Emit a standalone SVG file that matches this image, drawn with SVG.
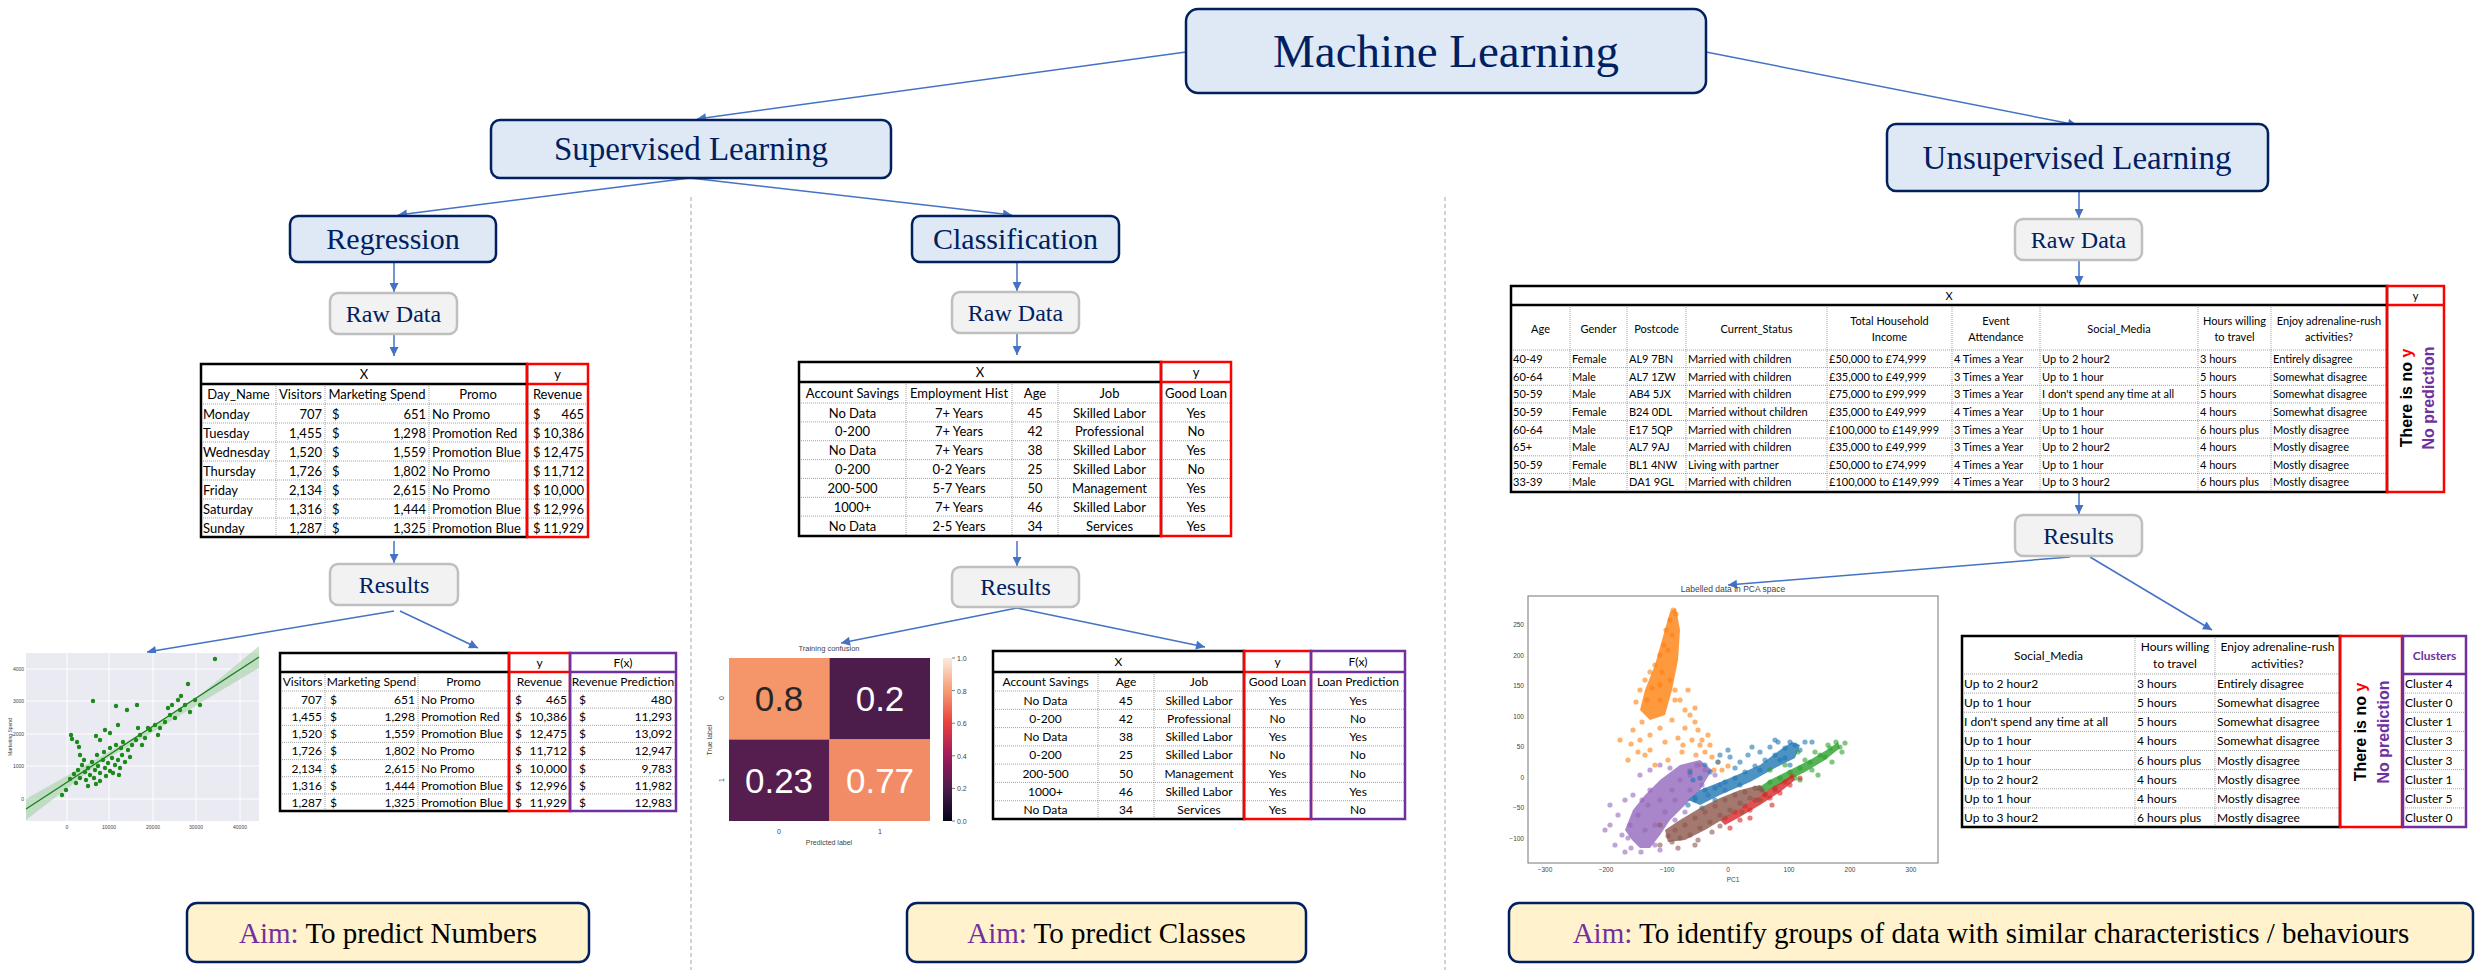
<svg xmlns="http://www.w3.org/2000/svg" width="2483" height="980" viewBox="0 0 2483 980">
<style>
.box{fill:#dee9f5;stroke:#002060;stroke-width:2.5}
.gbox{fill:#f2f2f2;stroke:#bfbfbf;stroke-width:2.5}
.aim{fill:#fff2cc;stroke:#002060;stroke-width:2.5}
.ttl{font-family:"Liberation Serif",serif;fill:#002060;text-anchor:middle}
.aimt{font-family:"Liberation Serif",serif;fill:#000;text-anchor:middle;font-size:29px}
.conn{stroke:#4472c4;stroke-width:1.5;fill:none;marker-end:url(#arr)}
.dash{stroke:#a6a6a6;stroke-width:1;stroke-dasharray:4,3}
.dot{stroke:#8c8c8c;stroke-width:0.8;stroke-dasharray:1,1;fill:none}
.bk{fill:none;stroke:#000;stroke-width:2.5}
.rd{fill:none;stroke:#ff0000;stroke-width:2.5}
.pu{fill:none;stroke:#7030a0;stroke-width:2.5}
.t{font-family:Lato,"Liberation Sans",sans-serif;fill:#000}
.c{text-anchor:middle}
.e{text-anchor:end}
.ax{font-family:"Liberation Sans",sans-serif;fill:#444}
.pc circle{r:2.6px;fill-opacity:0.6}
.pc polygon{fill-opacity:0.8}
</style>
<defs>
<marker id="arr" viewBox="0 0 10 10" refX="10" refY="5" markerWidth="10" markerHeight="9" markerUnits="userSpaceOnUse" orient="auto"><path d="M0,0 L10,5 L0,10 z" fill="#4472c4"/></marker>
<linearGradient id="rocket" x1="0" y1="0" x2="0" y2="1">
<stop offset="0" stop-color="#faebdd"/><stop offset="0.2" stop-color="#f69c73"/><stop offset="0.4" stop-color="#e83f3f"/><stop offset="0.6" stop-color="#a11a5b"/><stop offset="0.8" stop-color="#4c1d4b"/><stop offset="1" stop-color="#03051a"/>
</linearGradient>
</defs>
<rect width="2483" height="980" fill="#fff"/>

<!-- separators -->
<line class="dash" x1="691" y1="197" x2="691" y2="970"/>
<line class="dash" x1="1445" y1="197" x2="1445" y2="970"/>

<!-- connectors -->
<g id="connectors">
<path class="conn" d="M1186,52 L697,119"/>
<path class="conn" d="M1706,52 L2077,125"/>
<path class="conn" d="M690,178 L398,215"/>
<path class="conn" d="M690,178 L1012,215"/>
<path class="conn" d="M394,262 L394,292"/>
<path class="conn" d="M394,335 L394,356"/>
<path class="conn" d="M394,541 L394,563"/>
<path class="conn" d="M394,611 L147,652"/>
<path class="conn" d="M400,611 L478,648"/>
<path class="conn" d="M1017,262 L1017,291"/>
<path class="conn" d="M1017,333 L1017,355"/>
<path class="conn" d="M1017,541 L1017,566"/>
<path class="conn" d="M1017,608 L841,643"/>
<path class="conn" d="M1017,608 L1205,647"/>
<path class="conn" d="M2079,191 L2079,218"/>
<path class="conn" d="M2079,261 L2079,285"/>
<path class="conn" d="M2079,492 L2079,514"/>
<path class="conn" d="M2070,557 L1728,585"/>
<path class="conn" d="M2090,557 L2212,630"/>
</g>

<!-- title nodes -->
<g id="ml"><rect class="box" x="1186" y="9" width="520" height="84" rx="12"/><text class="ttl" x="1446" y="67" font-size="47">Machine Learning</text></g>
<g id="supervised"><rect class="box" x="491" y="120" width="400" height="58" rx="9"/><text class="ttl" x="691" y="160" font-size="33">Supervised Learning</text></g>
<g id="unsupervised"><rect class="box" x="1887" y="124" width="381" height="67" rx="9"/><text class="ttl" x="2077" y="169" font-size="33">Unsupervised Learning</text></g>
<g id="regression"><rect class="box" x="290" y="216" width="206" height="46" rx="8"/><text class="ttl" x="393" y="249" font-size="30">Regression</text></g>
<g id="classification"><rect class="box" x="912" y="216" width="207" height="46" rx="8"/><text class="ttl" x="1015.5" y="249" font-size="30">Classification</text></g>
<g id="raw-reg"><rect class="gbox" x="330" y="293" width="127" height="41" rx="8"/><text class="ttl" x="393.5" y="322" font-size="24">Raw Data</text></g>
<g id="raw-class"><rect class="gbox" x="952" y="292" width="127" height="41" rx="8"/><text class="ttl" x="1015.5" y="321" font-size="24">Raw Data</text></g>
<g id="raw-unsup"><rect class="gbox" x="2015" y="219" width="127" height="41" rx="8"/><text class="ttl" x="2078.5" y="248" font-size="24">Raw Data</text></g>
<g id="res-reg"><rect class="gbox" x="330" y="564" width="128" height="41" rx="8"/><text class="ttl" x="394" y="593" font-size="24">Results</text></g>
<g id="res-class"><rect class="gbox" x="952" y="567" width="127" height="40" rx="8"/><text class="ttl" x="1015.5" y="595" font-size="24">Results</text></g>
<g id="res-unsup"><rect class="gbox" x="2015" y="515" width="127" height="41" rx="8"/><text class="ttl" x="2078.5" y="544" font-size="24">Results</text></g>

<!-- Regression raw table -->
<g id="reg-table" class="t" font-size="13">
<path class="dot" d="M201,404H588M201,423H588M201,442H588M201,461H588M201,480H588M201,499H588M201,518H588M276,384V537M325,384V537M429,384V537"/>
<rect class="bk" x="201" y="364" width="326" height="173"/><line class="bk" x1="201" y1="384" x2="527" y2="384"/>
<rect class="rd" x="527" y="364" width="61" height="173"/><line class="rd" x1="527" y1="384" x2="588" y2="384"/>
<g class="c"><text x="364" y="379">X</text><text x="557.5" y="379">y</text>
<text x="238.5" y="399">Day_Name</text><text x="300.5" y="399">Visitors</text><text x="377" y="399">Marketing Spend</text><text x="478" y="399">Promo</text><text x="557.5" y="399">Revenue</text></g>
<g><text x="203" y="418.5">Monday</text><text x="203" y="437.5">Tuesday</text><text x="203" y="456.5">Wednesday</text><text x="203" y="475.5">Thursday</text><text x="203" y="494.5">Friday</text><text x="203" y="513.5">Saturday</text><text x="203" y="532.5">Sunday</text></g>
<g class="e"><text x="322" y="418.5">707</text><text x="322" y="437.5">1,455</text><text x="322" y="456.5">1,520</text><text x="322" y="475.5">1,726</text><text x="322" y="494.5">2,134</text><text x="322" y="513.5">1,316</text><text x="322" y="532.5">1,287</text></g>
<g><text x="332" y="418.5">$</text><text x="332" y="437.5">$</text><text x="332" y="456.5">$</text><text x="332" y="475.5">$</text><text x="332" y="494.5">$</text><text x="332" y="513.5">$</text><text x="332" y="532.5">$</text></g>
<g class="e"><text x="426" y="418.5">651</text><text x="426" y="437.5">1,298</text><text x="426" y="456.5">1,559</text><text x="426" y="475.5">1,802</text><text x="426" y="494.5">2,615</text><text x="426" y="513.5">1,444</text><text x="426" y="532.5">1,325</text></g>
<g><text x="432" y="418.5">No Promo</text><text x="432" y="437.5">Promotion Red</text><text x="432" y="456.5">Promotion Blue</text><text x="432" y="475.5">No Promo</text><text x="432" y="494.5">No Promo</text><text x="432" y="513.5">Promotion Blue</text><text x="432" y="532.5">Promotion Blue</text></g>
<g><text x="533" y="418.5">$</text><text x="533" y="437.5">$</text><text x="533" y="456.5">$</text><text x="533" y="475.5">$</text><text x="533" y="494.5">$</text><text x="533" y="513.5">$</text><text x="533" y="532.5">$</text></g>
<g class="e"><text x="584" y="418.5">465</text><text x="584" y="437.5">10,386</text><text x="584" y="456.5">12,475</text><text x="584" y="475.5">11,712</text><text x="584" y="494.5">10,000</text><text x="584" y="513.5">12,996</text><text x="584" y="532.5">11,929</text></g>
</g>

<!-- Regression scatter -->
<g id="reg-plot">
<rect x="26" y="653" width="233" height="168" fill="#eaeaf2"/>
<path d="M67,653V821M109,653V821M153,653V821M196,653V821M240,653V821M26,669H259M26,701H259M26,734H259M26,766H259M26,799H259" stroke="#fff" stroke-width="1"/>
<polygon points="26,799 100,757 150,728 200,695 259,646 259,668 200,703 150,734 100,763 26,820" fill="#9fcf9f" opacity="0.55"/>
<line x1="26" y1="809" x2="259" y2="657" stroke="#1a7f1a" stroke-width="1.3"/>
<g fill="#1b8a1b">
<circle cx="78" cy="770" r="2.2"/><circle cx="82" cy="765" r="2.2"/><circle cx="85" cy="772" r="2.2"/><circle cx="88" cy="768" r="2.2"/><circle cx="90" cy="775" r="2.2"/><circle cx="92" cy="762" r="2.2"/><circle cx="95" cy="770" r="2.2"/><circle cx="98" cy="766" r="2.2"/><circle cx="100" cy="773" r="2.2"/><circle cx="103" cy="760" r="2.2"/><circle cx="105" cy="768" r="2.2"/><circle cx="108" cy="763" r="2.2"/><circle cx="110" cy="771" r="2.2"/><circle cx="112" cy="758" r="2.2"/><circle cx="115" cy="765" r="2.2"/><circle cx="118" cy="760" r="2.2"/><circle cx="120" cy="768" r="2.2"/><circle cx="122" cy="755" r="2.2"/><circle cx="125" cy="762" r="2.2"/><circle cx="128" cy="750" r="2.2"/><circle cx="130" cy="757" r="2.2"/><circle cx="80" cy="778" r="2.2"/><circle cx="86" cy="780" r="2.2"/><circle cx="94" cy="778" r="2.2"/><circle cx="100" cy="781" r="2.2"/><circle cx="106" cy="776" r="2.2"/><circle cx="113" cy="773" r="2.2"/><circle cx="119" cy="775" r="2.2"/><circle cx="74" cy="774" r="2.2"/><circle cx="70" cy="779" r="2.2"/><circle cx="76" cy="783" r="2.2"/><circle cx="88" cy="786" r="2.2"/><circle cx="96" cy="784" r="2.2"/><circle cx="66" cy="790" r="2.2"/><circle cx="62" cy="795" r="2.2"/><circle cx="84" cy="760" r="2.2"/><circle cx="97" cy="755" r="2.2"/><circle cx="104" cy="752" r="2.2"/><circle cx="110" cy="748" r="2.2"/><circle cx="116" cy="745" r="2.2"/><circle cx="123" cy="742" r="2.2"/><circle cx="132" cy="745" r="2.2"/><circle cx="136" cy="740" r="2.2"/><circle cx="140" cy="735" r="2.2"/><circle cx="145" cy="738" r="2.2"/><circle cx="150" cy="730" r="2.2"/><circle cx="155" cy="725" r="2.2"/><circle cx="160" cy="728" r="2.2"/><circle cx="165" cy="722" r="2.2"/><circle cx="170" cy="715" r="2.2"/><circle cx="175" cy="718" r="2.2"/><circle cx="180" cy="710" r="2.2"/><circle cx="185" cy="705" r="2.2"/><circle cx="190" cy="712" r="2.2"/><circle cx="195" cy="700" r="2.2"/><circle cx="200" cy="705" r="2.2"/><circle cx="178" cy="700" r="2.2"/><circle cx="172" cy="705" r="2.2"/><circle cx="168" cy="708" r="2.2"/><circle cx="158" cy="735" r="2.2"/><circle cx="148" cy="728" r="2.2"/><circle cx="138" cy="728" r="2.2"/><circle cx="142" cy="745" r="2.2"/><circle cx="71" cy="735" r="2.2"/><circle cx="72" cy="739" r="2.2"/><circle cx="77" cy="742" r="2.2"/><circle cx="79" cy="747" r="2.2"/><circle cx="80" cy="755" r="2.2"/><circle cx="96" cy="736" r="2.2"/><circle cx="100" cy="740" r="2.2"/><circle cx="105" cy="730" r="2.2"/><circle cx="93" cy="701" r="2.2"/><circle cx="116" cy="706" r="2.2"/><circle cx="127" cy="710" r="2.2"/><circle cx="137" cy="705" r="2.2"/><circle cx="121" cy="748" r="2.2"/><circle cx="118" cy="725" r="2.2"/><circle cx="110" cy="733" r="2.2"/><circle cx="215" cy="659" r="2.2"/><circle cx="188" cy="684" r="2.2"/><circle cx="181" cy="696" r="2.2"/>
</g>
<g class="ax" font-size="5" text-anchor="middle"><text x="67" y="829">0</text><text x="109" y="829">10000</text><text x="153" y="829">20000</text><text x="196" y="829">30000</text><text x="240" y="829">40000</text></g>
<g class="ax" font-size="5" text-anchor="end"><text x="24" y="801">0</text><text x="24" y="768">1000</text><text x="24" y="736">2000</text><text x="24" y="703">3000</text><text x="24" y="671">4000</text></g>
<text class="ax" font-size="5" text-anchor="middle" transform="translate(12,737) rotate(-90)">Marketing Spend</text>
</g>

<!-- Regression results table -->
<g id="reg-results" class="t" font-size="12">
<path class="dot" d="M280,691H676M280,708.1H676M280,725.3H676M280,742.4H676M280,759.6H676M280,776.7H676M280,793.9H676M325,672V811M418,672V811"/>
<rect class="bk" x="280" y="653" width="229" height="158"/><line class="bk" x1="280" y1="672" x2="509" y2="672"/>
<rect class="rd" x="509" y="653" width="61" height="158"/><line class="rd" x1="509" y1="672" x2="570" y2="672"/>
<rect class="pu" x="570" y="653" width="106" height="158"/><line class="pu" x1="570" y1="672" x2="676" y2="672"/>
<g class="c"><text x="539.5" y="667">y</text><text x="623" y="667">F(x)</text>
<text x="302.5" y="686">Visitors</text><text x="371.5" y="686">Marketing Spend</text><text x="463.5" y="686">Promo</text><text x="539.5" y="686">Revenue</text><text x="623" y="686">Revenue Prediction</text></g>
<g class="e"><text x="322" y="704">707</text><text x="322" y="721.1">1,455</text><text x="322" y="738.3">1,520</text><text x="322" y="755.4">1,726</text><text x="322" y="772.6">2,134</text><text x="322" y="789.7">1,316</text><text x="322" y="806.9">1,287</text></g>
<g><text x="330" y="704">$</text><text x="330" y="721.1">$</text><text x="330" y="738.3">$</text><text x="330" y="755.4">$</text><text x="330" y="772.6">$</text><text x="330" y="789.7">$</text><text x="330" y="806.9">$</text></g>
<g class="e"><text x="415" y="704">651</text><text x="415" y="721.1">1,298</text><text x="415" y="738.3">1,559</text><text x="415" y="755.4">1,802</text><text x="415" y="772.6">2,615</text><text x="415" y="789.7">1,444</text><text x="415" y="806.9">1,325</text></g>
<g><text x="421" y="704">No Promo</text><text x="421" y="721.1">Promotion Red</text><text x="421" y="738.3">Promotion Blue</text><text x="421" y="755.4">No Promo</text><text x="421" y="772.6">No Promo</text><text x="421" y="789.7">Promotion Blue</text><text x="421" y="806.9">Promotion Blue</text></g>
<g><text x="515" y="704">$</text><text x="515" y="721.1">$</text><text x="515" y="738.3">$</text><text x="515" y="755.4">$</text><text x="515" y="772.6">$</text><text x="515" y="789.7">$</text><text x="515" y="806.9">$</text></g>
<g class="e"><text x="567" y="704">465</text><text x="567" y="721.1">10,386</text><text x="567" y="738.3">12,475</text><text x="567" y="755.4">11,712</text><text x="567" y="772.6">10,000</text><text x="567" y="789.7">12,996</text><text x="567" y="806.9">11,929</text></g>
<g><text x="579" y="704">$</text><text x="579" y="721.1">$</text><text x="579" y="738.3">$</text><text x="579" y="755.4">$</text><text x="579" y="772.6">$</text><text x="579" y="789.7">$</text><text x="579" y="806.9">$</text></g>
<g class="e"><text x="672" y="704">480</text><text x="672" y="721.1">11,293</text><text x="672" y="738.3">13,092</text><text x="672" y="755.4">12,947</text><text x="672" y="772.6">9,783</text><text x="672" y="789.7">11,982</text><text x="672" y="806.9">12,983</text></g>
</g>

<!-- Classification raw table -->
<g id="class-table" class="t c" font-size="13">
<path class="dot" d="M799,403H1231M799,421.9H1231M799,440.7H1231M799,459.6H1231M799,478.4H1231M799,497.3H1231M799,516.1H1231M906,382V536M1012,382V536M1058,382V536"/>
<rect class="bk" x="799" y="362" width="362" height="174"/><line class="bk" x1="799" y1="382" x2="1161" y2="382"/>
<rect class="rd" x="1161" y="362" width="70" height="174"/><line class="rd" x1="1161" y1="382" x2="1231" y2="382"/>
<text x="980" y="377">X</text><text x="1196" y="377">y</text>
<text x="852.5" y="398">Account Savings</text><text x="959" y="398">Employment Hist</text><text x="1035" y="398">Age</text><text x="1109.5" y="398">Job</text><text x="1196" y="398">Good Loan</text>
<text x="852.5" y="417.5">No Data</text><text x="959" y="417.5">7+ Years</text><text x="1035" y="417.5">45</text><text x="1109.5" y="417.5">Skilled Labor</text><text x="1196" y="417.5">Yes</text>
<text x="852.5" y="436.4">0-200</text><text x="959" y="436.4">7+ Years</text><text x="1035" y="436.4">42</text><text x="1109.5" y="436.4">Professional</text><text x="1196" y="436.4">No</text>
<text x="852.5" y="455.2">No Data</text><text x="959" y="455.2">7+ Years</text><text x="1035" y="455.2">38</text><text x="1109.5" y="455.2">Skilled Labor</text><text x="1196" y="455.2">Yes</text>
<text x="852.5" y="474.1">0-200</text><text x="959" y="474.1">0-2 Years</text><text x="1035" y="474.1">25</text><text x="1109.5" y="474.1">Skilled Labor</text><text x="1196" y="474.1">No</text>
<text x="852.5" y="492.9">200-500</text><text x="959" y="492.9">5-7 Years</text><text x="1035" y="492.9">50</text><text x="1109.5" y="492.9">Management</text><text x="1196" y="492.9">Yes</text>
<text x="852.5" y="511.8">1000+</text><text x="959" y="511.8">7+ Years</text><text x="1035" y="511.8">46</text><text x="1109.5" y="511.8">Skilled Labor</text><text x="1196" y="511.8">Yes</text>
<text x="852.5" y="530.6">No Data</text><text x="959" y="530.6">2-5 Years</text><text x="1035" y="530.6">34</text><text x="1109.5" y="530.6">Services</text><text x="1196" y="530.6">Yes</text>
</g>

<!-- Confusion matrix -->
<g id="confusion">
<text class="ax" x="829" y="651" font-size="7.5" text-anchor="middle">Training confusion</text>
<rect x="729" y="658" width="100.5" height="81.5" fill="#f4956a"/>
<rect x="829.5" y="658" width="100.5" height="81.5" fill="#4c1d4b"/>
<rect x="729" y="739.5" width="100.5" height="81.5" fill="#561e4f"/>
<rect x="829.5" y="739.5" width="100.5" height="81.5" fill="#f28c66"/>
<g font-family="'Liberation Sans',sans-serif" font-size="35" text-anchor="middle">
<text x="779" y="711" fill="#262626">0.8</text><text x="880" y="711" fill="#fff">0.2</text>
<text x="779" y="793" fill="#fff">0.23</text><text x="880" y="793" fill="#fff">0.77</text></g>
<rect x="943" y="658" width="9" height="163" fill="url(#rocket)"/>
<path d="M952,658h3M952,690.6h3M952,723.2h3M952,755.8h3M952,788.4h3M952,821h3" stroke="#444" stroke-width="0.7"/>
<g class="ax" font-size="7"><text x="957" y="661">1.0</text><text x="957" y="693.6">0.8</text><text x="957" y="726.2">0.6</text><text x="957" y="758.8">0.4</text><text x="957" y="791.4">0.2</text><text x="957" y="824">0.0</text></g>
<g class="ax" font-size="7" text-anchor="middle"><text x="779" y="834">0</text><text x="880" y="834">1</text><text x="829" y="845">Predicted label</text>
<text transform="translate(724,698) rotate(-90)">0</text><text transform="translate(724,780) rotate(-90)">1</text><text transform="translate(712,740) rotate(-90)">True label</text></g>
</g>

<!-- Classification results table -->
<g id="class-results" class="t c" font-size="12">
<path class="dot" d="M993,691H1405M993,709.3H1405M993,727.6H1405M993,745.9H1405M993,764.1H1405M993,782.4H1405M993,800.7H1405M1098,672V819M1154,672V819"/>
<rect class="bk" x="993" y="651" width="251" height="168"/><line class="bk" x1="993" y1="672" x2="1244" y2="672"/>
<rect class="rd" x="1244" y="651" width="67" height="168"/><line class="rd" x1="1244" y1="672" x2="1311" y2="672"/>
<rect class="pu" x="1311" y="651" width="94" height="168"/><line class="pu" x1="1311" y1="672" x2="1405" y2="672"/>
<text x="1118.5" y="666">X</text><text x="1277.5" y="666">y</text><text x="1358" y="666">F(x)</text>
<text x="1045.5" y="686">Account Savings</text><text x="1126" y="686">Age</text><text x="1199" y="686">Job</text><text x="1277.5" y="686">Good Loan</text><text x="1358" y="686">Loan Prediction</text>
<text x="1045.5" y="704.5">No Data</text><text x="1126" y="704.5">45</text><text x="1199" y="704.5">Skilled Labor</text><text x="1277.5" y="704.5">Yes</text><text x="1358" y="704.5">Yes</text>
<text x="1045.5" y="722.8">0-200</text><text x="1126" y="722.8">42</text><text x="1199" y="722.8">Professional</text><text x="1277.5" y="722.8">No</text><text x="1358" y="722.8">No</text>
<text x="1045.5" y="741.1">No Data</text><text x="1126" y="741.1">38</text><text x="1199" y="741.1">Skilled Labor</text><text x="1277.5" y="741.1">Yes</text><text x="1358" y="741.1">Yes</text>
<text x="1045.5" y="759.4">0-200</text><text x="1126" y="759.4">25</text><text x="1199" y="759.4">Skilled Labor</text><text x="1277.5" y="759.4">No</text><text x="1358" y="759.4">No</text>
<text x="1045.5" y="777.6">200-500</text><text x="1126" y="777.6">50</text><text x="1199" y="777.6">Management</text><text x="1277.5" y="777.6">Yes</text><text x="1358" y="777.6">No</text>
<text x="1045.5" y="795.9">1000+</text><text x="1126" y="795.9">46</text><text x="1199" y="795.9">Skilled Labor</text><text x="1277.5" y="795.9">Yes</text><text x="1358" y="795.9">Yes</text>
<text x="1045.5" y="814.2">No Data</text><text x="1126" y="814.2">34</text><text x="1199" y="814.2">Services</text><text x="1277.5" y="814.2">Yes</text><text x="1358" y="814.2">No</text>
</g>

<!-- Unsupervised raw table -->
<g id="unsup-table" class="t" font-size="11">
<path class="dot" d="M1511,350H2387M1511,367.6H2387M1511,385.3H2387M1511,402.9H2387M1511,420.5H2387M1511,438.1H2387M1511,455.8H2387M1511,473.4H2387M1570,305V492M1627,305V492M1686,305V492M1827,305V492M1952,305V492M2040,305V492M2198,305V492M2271,305V492"/>
<rect class="bk" x="1511" y="286" width="876" height="206"/><line class="bk" x1="1511" y1="305" x2="2387" y2="305"/>
<rect class="rd" x="2387" y="286" width="57" height="206"/><line class="rd" x1="2387" y1="305" x2="2444" y2="305"/>
<g class="c"><text x="1949" y="300">X</text><text x="2415.5" y="300">y</text>
<text x="1540.5" y="333">Age</text><text x="1598.5" y="333">Gender</text><text x="1656.5" y="333">Postcode</text><text x="1756.5" y="333">Current_Status</text>
<text x="1889.5" y="325">Total Household</text><text x="1889.5" y="341">Income</text><text x="1996" y="325">Event</text><text x="1996" y="341">Attendance</text>
<text x="2119" y="333">Social_Media</text><text x="2234.5" y="325">Hours willing</text><text x="2234.5" y="341">to travel</text><text x="2329" y="325">Enjoy adrenaline-rush</text><text x="2329" y="341">activities?</text></g>
<g><text x="1513" y="363">40-49</text><text x="1572" y="363">Female</text><text x="1629" y="363">AL9 7BN</text><text x="1688" y="363">Married with children</text><text x="1829" y="363">£50,000 to £74,999</text><text x="1954" y="363">4 Times a Year</text><text x="2042" y="363">Up to 2 hour2</text><text x="2200" y="363">3 hours</text><text x="2273" y="363">Entirely disagree</text></g>
<g><text x="1513" y="380.6">60-64</text><text x="1572" y="380.6">Male</text><text x="1629" y="380.6">AL7 1ZW</text><text x="1688" y="380.6">Married with children</text><text x="1829" y="380.6">£35,000 to £49,999</text><text x="1954" y="380.6">3 Times a Year</text><text x="2042" y="380.6">Up to 1 hour</text><text x="2200" y="380.6">5 hours</text><text x="2273" y="380.6">Somewhat disagree</text></g>
<g><text x="1513" y="398.3">50-59</text><text x="1572" y="398.3">Male</text><text x="1629" y="398.3">AB4 5JX</text><text x="1688" y="398.3">Married with children</text><text x="1829" y="398.3">£75,000 to £99,999</text><text x="1954" y="398.3">3 Times a Year</text><text x="2042" y="398.3">I don't spend any time at all</text><text x="2200" y="398.3">5 hours</text><text x="2273" y="398.3">Somewhat disagree</text></g>
<g><text x="1513" y="415.9">50-59</text><text x="1572" y="415.9">Female</text><text x="1629" y="415.9">B24 0DL</text><text x="1688" y="415.9">Married without children</text><text x="1829" y="415.9">£35,000 to £49,999</text><text x="1954" y="415.9">4 Times a Year</text><text x="2042" y="415.9">Up to 1 hour</text><text x="2200" y="415.9">4 hours</text><text x="2273" y="415.9">Somewhat disagree</text></g>
<g><text x="1513" y="433.5">60-64</text><text x="1572" y="433.5">Male</text><text x="1629" y="433.5">E17 5QP</text><text x="1688" y="433.5">Married with children</text><text x="1829" y="433.5">£100,000 to £149,999</text><text x="1954" y="433.5">3 Times a Year</text><text x="2042" y="433.5">Up to 1 hour</text><text x="2200" y="433.5">6 hours plus</text><text x="2273" y="433.5">Mostly disagree</text></g>
<g><text x="1513" y="451.1">65+</text><text x="1572" y="451.1">Male</text><text x="1629" y="451.1">AL7 9AJ</text><text x="1688" y="451.1">Married with children</text><text x="1829" y="451.1">£35,000 to £49,999</text><text x="1954" y="451.1">3 Times a Year</text><text x="2042" y="451.1">Up to 2 hour2</text><text x="2200" y="451.1">4 hours</text><text x="2273" y="451.1">Mostly disagree</text></g>
<g><text x="1513" y="468.8">50-59</text><text x="1572" y="468.8">Female</text><text x="1629" y="468.8">BL1 4NW</text><text x="1688" y="468.8">Living with partner</text><text x="1829" y="468.8">£50,000 to £74,999</text><text x="1954" y="468.8">4 Times a Year</text><text x="2042" y="468.8">Up to 1 hour</text><text x="2200" y="468.8">4 hours</text><text x="2273" y="468.8">Mostly disagree</text></g>
<g><text x="1513" y="486.4">33-39</text><text x="1572" y="486.4">Male</text><text x="1629" y="486.4">DA1 9GL</text><text x="1688" y="486.4">Married with children</text><text x="1829" y="486.4">£100,000 to £149,999</text><text x="1954" y="486.4">4 Times a Year</text><text x="2042" y="486.4">Up to 3 hour2</text><text x="2200" y="486.4">6 hours plus</text><text x="2273" y="486.4">Mostly disagree</text></g>
<g font-family="'Liberation Sans',sans-serif" font-weight="bold" font-size="16" text-anchor="middle">
<text transform="translate(2412,398) rotate(-90)">There is no <tspan fill="#ff0000">y</tspan></text>
<text transform="translate(2434,398) rotate(-90)" fill="#7030a0">No prediction</text></g>
</g>

<!-- PCA plot -->
<g id="pca">
<text class="ax" x="1733" y="592" font-size="8.5" text-anchor="middle">Labelled data in PCA space</text>
<rect x="1528" y="596" width="410" height="267" fill="#fff" stroke="#777" stroke-width="1"/>
<g class="pc">
<polygon fill="#ff7f0e" points="1670,612 1676,608 1680,630 1678,660 1672,690 1665,715 1650,720 1640,710 1645,690 1655,665 1662,640"/>
<g fill="#ff7f0e"><circle cx="1673" cy="610"/><circle cx="1676" cy="614"/><circle cx="1670" cy="620"/><circle cx="1666" cy="630"/><circle cx="1672" cy="635"/><circle cx="1664" cy="645"/><circle cx="1660" cy="655"/><circle cx="1668" cy="650"/><circle cx="1655" cy="665"/><circle cx="1650" cy="672"/><circle cx="1662" cy="672"/><circle cx="1645" cy="680"/><circle cx="1640" cy="690"/><circle cx="1652" cy="688"/><circle cx="1660" cy="685"/><circle cx="1670" cy="680"/><circle cx="1675" cy="690"/><circle cx="1680" cy="700"/><circle cx="1685" cy="710"/><circle cx="1690" cy="715"/><circle cx="1695" cy="722"/><circle cx="1698" cy="730"/><circle cx="1685" cy="728"/><circle cx="1672" cy="720"/><circle cx="1660" cy="728"/><circle cx="1650" cy="735"/><circle cx="1640" cy="740"/><circle cx="1638" cy="752"/><circle cx="1650" cy="750"/><circle cx="1665" cy="742"/><circle cx="1678" cy="738"/><circle cx="1692" cy="740"/><circle cx="1700" cy="745"/><circle cx="1705" cy="752"/><circle cx="1712" cy="757"/><circle cx="1682" cy="752"/><circle cx="1668" cy="760"/><circle cx="1655" cy="765"/><circle cx="1645" cy="755"/><circle cx="1700" cy="765"/><circle cx="1718" cy="762"/><circle cx="1722" cy="770"/><circle cx="1690" cy="770"/><circle cx="1636" cy="702"/><circle cx="1642" cy="722"/><circle cx="1675" cy="700"/><circle cx="1683" cy="745"/><circle cx="1710" cy="745"/><circle cx="1696" cy="755"/><circle cx="1728" cy="766"/><circle cx="1631" cy="744"/><circle cx="1633" cy="730"/><circle cx="1628" cy="760"/><circle cx="1647" cy="700"/><circle cx="1688" cy="690"/><circle cx="1702" cy="740"/><circle cx="1714" cy="770"/><circle cx="1660" cy="700"/><circle cx="1695" cy="708"/><circle cx="1708" cy="735"/><circle cx="1620" cy="740"/></g>
<polygon fill="#9467bd" points="1640,848 1632,840 1625,830 1633,810 1645,795 1660,780 1680,765 1700,760 1712,770 1700,790 1685,805 1670,820 1660,835 1650,848"/>
<g fill="#9467bd"><circle cx="1628" cy="838"/><circle cx="1631" cy="848"/><circle cx="1641" cy="852"/><circle cx="1655" cy="845"/><circle cx="1630" cy="825"/><circle cx="1638" cy="815"/><circle cx="1648" cy="805"/><circle cx="1660" cy="800"/><circle cx="1672" cy="790"/><circle cx="1680" cy="780"/><circle cx="1690" cy="775"/><circle cx="1697" cy="765"/><circle cx="1705" cy="770"/><circle cx="1715" cy="775"/><circle cx="1650" cy="790"/><circle cx="1642" cy="800"/><circle cx="1665" cy="812"/><circle cx="1675" cy="820"/><circle cx="1685" cy="812"/><circle cx="1695" cy="800"/><circle cx="1702" cy="785"/><circle cx="1720" cy="785"/><circle cx="1725" cy="790"/><circle cx="1660" cy="765"/><circle cx="1670" cy="768"/><circle cx="1650" cy="770"/><circle cx="1640" cy="775"/><circle cx="1633" cy="795"/><circle cx="1622" cy="835"/><circle cx="1645" cy="830"/><circle cx="1610" cy="825"/><circle cx="1618" cy="815"/><circle cx="1605" cy="830"/><circle cx="1615" cy="845"/><circle cx="1625" cy="852"/><circle cx="1660" cy="850"/><circle cx="1610" cy="805"/><circle cx="1625" cy="800"/><circle cx="1655" cy="825"/><circle cx="1690" cy="790"/><circle cx="1708" cy="795"/><circle cx="1675" cy="800"/></g>
<polygon fill="#1f77b4" points="1688,800 1700,790 1730,778 1760,765 1780,750 1792,742 1800,745 1795,758 1775,768 1750,782 1720,795 1700,805"/>
<g fill="#1f77b4"><circle cx="1695" cy="798"/><circle cx="1705" cy="790"/><circle cx="1715" cy="788"/><circle cx="1725" cy="782"/><circle cx="1735" cy="778"/><circle cx="1745" cy="772"/><circle cx="1755" cy="766"/><circle cx="1765" cy="760"/><circle cx="1775" cy="755"/><circle cx="1785" cy="748"/><circle cx="1790" cy="742"/><circle cx="1795" cy="745"/><circle cx="1800" cy="750"/><circle cx="1720" cy="755"/><circle cx="1730" cy="757"/><circle cx="1740" cy="762"/><circle cx="1760" cy="770"/><circle cx="1780" cy="760"/><circle cx="1770" cy="747"/><circle cx="1785" cy="758"/><circle cx="1700" cy="778"/><circle cx="1710" cy="772"/><circle cx="1728" cy="750"/><circle cx="1748" cy="755"/><circle cx="1752" cy="747"/><circle cx="1693" cy="780"/><circle cx="1715" cy="800"/><circle cx="1740" cy="785"/><circle cx="1690" cy="772"/><circle cx="1705" cy="765"/><circle cx="1718" cy="762"/><circle cx="1735" cy="768"/><circle cx="1760" cy="752"/><circle cx="1778" cy="742"/><circle cx="1805" cy="742"/><circle cx="1790" cy="765"/><circle cx="1702" cy="808"/><circle cx="1688" cy="805"/><circle cx="1775" cy="740"/><circle cx="1812" cy="742"/></g>
<polygon fill="#2ca02c" points="1755,790 1770,780 1790,770 1810,760 1830,748 1838,742 1840,748 1825,760 1805,772 1785,782 1765,792"/>
<g fill="#2ca02c"><circle cx="1760" cy="788"/><circle cx="1770" cy="782"/><circle cx="1780" cy="778"/><circle cx="1790" cy="772"/><circle cx="1800" cy="768"/><circle cx="1810" cy="762"/><circle cx="1820" cy="755"/><circle cx="1830" cy="748"/><circle cx="1836" cy="742"/><circle cx="1840" cy="747"/><circle cx="1815" cy="752"/><circle cx="1825" cy="757"/><circle cx="1795" cy="778"/><circle cx="1805" cy="760"/><circle cx="1785" cy="765"/><circle cx="1775" cy="790"/><circle cx="1765" cy="795"/><circle cx="1812" cy="770"/><circle cx="1828" cy="745"/><circle cx="1798" cy="752"/><circle cx="1845" cy="743"/><circle cx="1842" cy="752"/><circle cx="1832" cy="762"/><circle cx="1818" cy="775"/><circle cx="1800" cy="780"/><circle cx="1760" cy="800"/><circle cx="1770" cy="770"/></g>
<polygon fill="#d62728" points="1720,820 1740,808 1760,795 1780,783 1792,775 1795,780 1780,792 1760,805 1738,818 1725,825"/>
<g fill="#d62728"><circle cx="1725" cy="818"/><circle cx="1735" cy="812"/><circle cx="1745" cy="806"/><circle cx="1755" cy="800"/><circle cx="1765" cy="794"/><circle cx="1775" cy="788"/><circle cx="1785" cy="782"/><circle cx="1792" cy="776"/><circle cx="1750" cy="810"/><circle cx="1770" cy="798"/><circle cx="1780" cy="793"/><circle cx="1740" cy="820"/><circle cx="1790" cy="785"/><circle cx="1800" cy="778"/><circle cx="1772" cy="805"/><circle cx="1750" cy="818"/><circle cx="1730" cy="828"/></g>
<polygon fill="#8c564b" points="1665,830 1680,820 1700,808 1720,798 1740,790 1760,785 1765,792 1745,805 1725,818 1705,830 1685,840 1668,842"/>
<g fill="#8c564b"><circle cx="1668" cy="836"/><circle cx="1675" cy="830"/><circle cx="1685" cy="825"/><circle cx="1695" cy="818"/><circle cx="1705" cy="812"/><circle cx="1715" cy="806"/><circle cx="1725" cy="800"/><circle cx="1735" cy="795"/><circle cx="1745" cy="792"/><circle cx="1755" cy="788"/><circle cx="1762" cy="790"/><circle cx="1690" cy="835"/><circle cx="1700" cy="828"/><circle cx="1710" cy="822"/><circle cx="1720" cy="815"/><circle cx="1730" cy="810"/><circle cx="1740" cy="803"/><circle cx="1680" cy="838"/><circle cx="1672" cy="842"/><circle cx="1750" cy="798"/><circle cx="1698" cy="840"/><circle cx="1712" cy="832"/><circle cx="1660" cy="845"/><circle cx="1678" cy="848"/><circle cx="1695" cy="845"/><circle cx="1720" cy="826"/><circle cx="1742" cy="812"/><circle cx="1758" cy="800"/><circle cx="1660" cy="825"/></g>
</g>
<g class="ax" font-size="6.5" text-anchor="middle"><text x="1545" y="872">−300</text><text x="1606" y="872">−200</text><text x="1667" y="872">−100</text><text x="1728" y="872">0</text><text x="1789" y="872">100</text><text x="1850" y="872">200</text><text x="1911" y="872">300</text><text x="1733" y="882">PC1</text></g>
<g class="ax" font-size="6.5" text-anchor="end"><text x="1524" y="627">250</text><text x="1524" y="658">200</text><text x="1524" y="688">150</text><text x="1524" y="719">100</text><text x="1524" y="749">50</text><text x="1524" y="780">0</text><text x="1524" y="810">−50</text><text x="1524" y="841">−100</text></g>
</g>

<!-- Unsupervised results table -->
<g id="unsup-results" class="t" font-size="12">
<path class="dot" d="M1962,674H2340M1962,693.1H2340M1962,712.3H2340M1962,731.4H2340M1962,750.5H2340M1962,769.6H2340M1962,788.8H2340M1962,807.9H2340M2135,636V827M2215,636V827M2403,693.1H2466M2403,712.3H2466M2403,731.4H2466M2403,750.5H2466M2403,769.6H2466M2403,788.8H2466M2403,807.9H2466"/>
<rect class="bk" x="1962" y="636" width="378" height="191"/>
<rect class="rd" x="2340" y="636" width="62" height="191"/>
<rect class="pu" x="2403" y="636" width="63" height="191"/><line class="pu" x1="2403" y1="674" x2="2466" y2="674"/>
<g class="c"><text x="2048.5" y="660">Social_Media</text><text x="2175" y="651">Hours willing</text><text x="2175" y="668">to travel</text><text x="2277.5" y="651">Enjoy adrenaline-rush</text><text x="2277.5" y="668">activities?</text>
<text x="2434.5" y="660" fill="#7030a0" font-weight="bold">Clusters</text></g>
<g><text x="1964" y="688">Up to 2 hour2</text><text x="2137" y="688">3 hours</text><text x="2217" y="688">Entirely disagree</text><text x="2405" y="688">Cluster 4</text></g>
<g><text x="1964" y="707.1">Up to 1 hour</text><text x="2137" y="707.1">5 hours</text><text x="2217" y="707.1">Somewhat disagree</text><text x="2405" y="707.1">Cluster 0</text></g>
<g><text x="1964" y="726.3">I don't spend any time at all</text><text x="2137" y="726.3">5 hours</text><text x="2217" y="726.3">Somewhat disagree</text><text x="2405" y="726.3">Cluster 1</text></g>
<g><text x="1964" y="745.4">Up to 1 hour</text><text x="2137" y="745.4">4 hours</text><text x="2217" y="745.4">Somewhat disagree</text><text x="2405" y="745.4">Cluster 3</text></g>
<g><text x="1964" y="764.5">Up to 1 hour</text><text x="2137" y="764.5">6 hours plus</text><text x="2217" y="764.5">Mostly disagree</text><text x="2405" y="764.5">Cluster 3</text></g>
<g><text x="1964" y="783.6">Up to 2 hour2</text><text x="2137" y="783.6">4 hours</text><text x="2217" y="783.6">Mostly disagree</text><text x="2405" y="783.6">Cluster 1</text></g>
<g><text x="1964" y="802.8">Up to 1 hour</text><text x="2137" y="802.8">4 hours</text><text x="2217" y="802.8">Mostly disagree</text><text x="2405" y="802.8">Cluster 5</text></g>
<g><text x="1964" y="821.9">Up to 3 hour2</text><text x="2137" y="821.9">6 hours plus</text><text x="2217" y="821.9">Mostly disagree</text><text x="2405" y="821.9">Cluster 0</text></g>
<g font-family="'Liberation Sans',sans-serif" font-weight="bold" font-size="16" text-anchor="middle">
<text transform="translate(2366,732) rotate(-90)">There is no <tspan fill="#ff0000">y</tspan></text>
<text transform="translate(2389,732) rotate(-90)" fill="#7030a0">No prediction</text></g>
</g>

<!-- Aim boxes -->
<g id="aim-reg"><rect class="aim" x="187" y="903" width="402" height="59" rx="10"/><text class="aimt" x="388" y="943"><tspan fill="#7030a0">Aim:</tspan> To predict Numbers</text></g>
<g id="aim-class"><rect class="aim" x="907" y="903" width="399" height="59" rx="10"/><text class="aimt" x="1106.5" y="943"><tspan fill="#7030a0">Aim:</tspan> To predict Classes</text></g>
<g id="aim-unsup"><rect class="aim" x="1509" y="903" width="964" height="59" rx="10"/><text class="aimt" x="1991" y="943"><tspan fill="#7030a0">Aim:</tspan> To identify groups of data with similar characteristics  / behaviours</text></g>
</svg>
